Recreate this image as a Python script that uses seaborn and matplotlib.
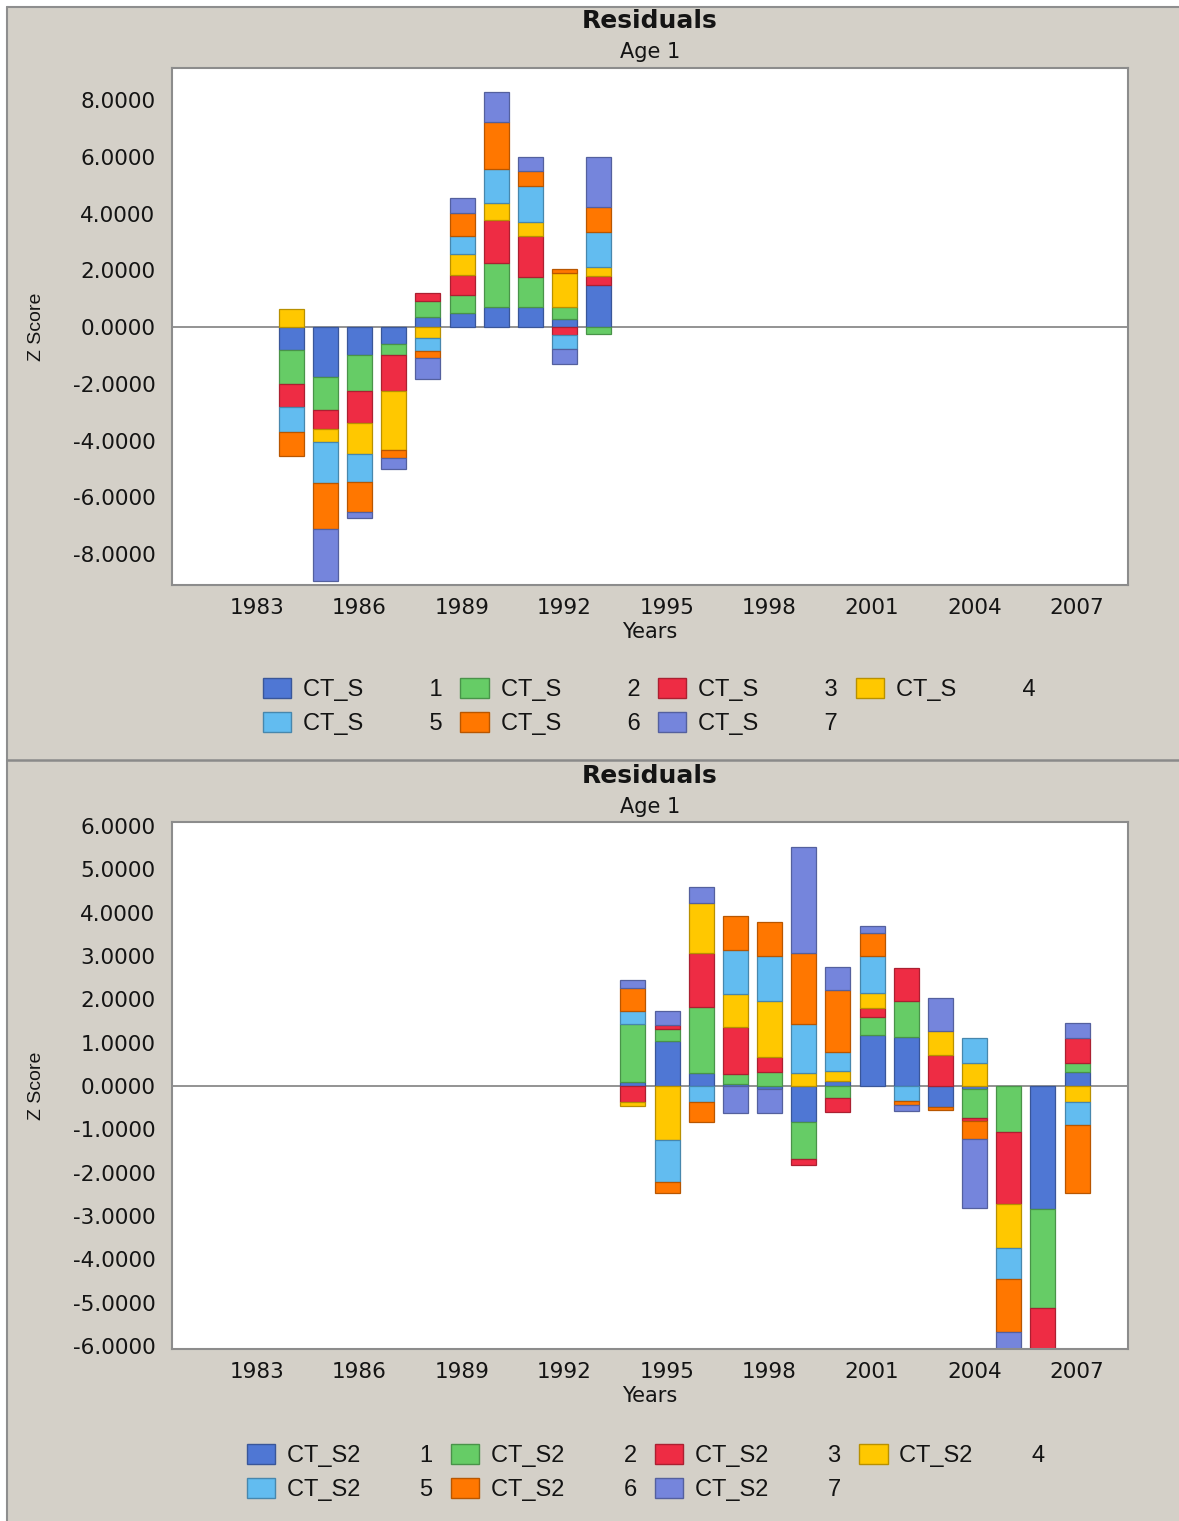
import numpy as np
import pandas as pd
import matplotlib
matplotlib.use("Agg")
import matplotlib.pyplot as plt
import matplotlib.colors as mcolors
from matplotlib.patches import Rectangle, Patch
from matplotlib.lines import Line2D
import seaborn as sns

# ---------------- data ----------------
years_top = [1984, 1985, 1986, 1987, 1988, 1989, 1990, 1991, 1992, 1993]
top_s1 = [-0.82, -1.76, -0.99, -0.58, 0.34, 0.50, 0.72, 0.72, 0.29, 1.48]
top_s2 = [-1.20, -1.15, -1.26, -0.41, 0.57, 0.62, 1.55, 1.03, 0.41, -0.26]
top_s3 = [-0.79, -0.68, -1.13, -1.26, 0.29, 0.73, 1.50, 1.46, -0.29, 0.32]
top_s4 = [0.62, -0.47, -1.10, -2.09, -0.40, 0.72, 0.59, 0.50, 1.21, 0.30]
top_s5 = [-0.88, -1.45, -0.99, 0.00, -0.44, 0.65, 1.20, 1.26, -0.48, 1.26]
top_s6 = [-0.85, -1.62, -1.05, -0.29, -0.25, 0.81, 1.66, 0.54, 0.12, 0.88]
top_s7 = [0.00, -1.82, -0.21, -0.36, -0.75, 0.51, 1.07, 0.48, -0.53, 1.74]

years_bot = [1994, 1995, 1996, 1997, 1998, 1999, 2000, 2001, 2002, 2003, 2004, 2005, 2006, 2007]
bot_s1 = [0.09, 1.03, 0.30, 0.05, -0.08, -0.83, 0.12, 1.17, 1.14, -0.48, -0.06, 0.00, -2.83, 0.32]
bot_s2 = [1.35, 0.28, 1.52, 0.23, 0.31, -0.86, -0.27, 0.41, 0.82, 0.00, -0.69, -1.06, -2.30, 0.20]
bot_s3 = [-0.37, 0.10, 1.25, 1.08, 0.36, -0.14, -0.33, 0.21, 0.75, 0.71, -0.05, -1.67, -1.20, 0.58]
bot_s4 = [-0.085, -1.25, 1.15, 0.77, 1.29, 0.29, 0.23, 0.35, 0.00, 0.56, 0.52, -1.00, 0.00, -0.38]
bot_s5 = [0.30, -0.97, -0.38, 1.00, 1.04, 1.15, 0.44, 0.85, -0.35, 0.00, 0.59, -0.73, 0.00, -0.52]
bot_s6 = [0.52, -0.24, -0.46, 0.78, 0.78, 1.63, 1.42, 0.54, -0.10, -0.08, -0.43, -1.21, 0.00, -1.56]
bot_s7 = [0.19, 0.32, 0.36, -0.63, -0.55, 2.45, 0.54, 0.16, -0.12, 0.75, -1.58, -0.60, 0.00, 0.36]

series_names_top = ["CT_S", "CT_S", "CT_S", "CT_S", "CT_S", "CT_S", "CT_S"]
series_names_bot = ["CT_S2", "CT_S2", "CT_S2", "CT_S2", "CT_S2", "CT_S2", "CT_S2"]
series_ids = ["1", "2", "3", "4", "5", "6", "7"]
series_colors = ["#4F77D4", "#66CC66", "#EE2C44", "#FFC800", "#62BCF0", "#FF7700", "#7585DC"]

x_ticks = [1983, 1986, 1989, 1992, 1995, 1998, 2001, 2004, 2007]
top_yticks = [-8, -6, -4, -2, 0, 2, 4, 6, 8]
bot_yticks = [-6, -5, -4, -3, -2, -1, 0, 1, 2, 3, 4, 5, 6]

# ---------------- style ----------------
sns.set_style("white")
plt.rcParams["font.family"] = ["DejaVu Sans"]

W, H = 1179, 1521
BG = "#D4D0C8"
TXT = "#141414"


def darker(c, f=0.72):
    r, g, b = mcolors.to_rgb(c)
    return (r * f, g * f, b * f)


fig = plt.figure(figsize=(W / 100, H / 100), dpi=100, facecolor="white")
fig.patches.append(Rectangle((7 / W, 0), 1, 1 - 7 / H, transform=fig.transFigure,
                             facecolor=BG, edgecolor="none", zorder=-10))
fig.add_artist(Line2D([6.5 / W, 1], [1 - 6.5 / H] * 2, color="#8e8e8e", lw=1.5,
                      transform=fig.transFigure))
fig.add_artist(Line2D([6.5 / W] * 2, [0, 1 - 6.5 / H], color="#8e8e8e", lw=1.5,
                      transform=fig.transFigure))
fig.add_artist(Line2D([7 / W, 1], [1 - 760 / H] * 2, color="#8a8a8a", lw=1.8,
                      transform=fig.transFigure))


def ax_rect(left, top, right, bottom):
    return [left / W, 1 - bottom / H, (right - left) / W, (bottom - top) / H]


def draw(ax, years, series, ylim, yticks):
    years = np.asarray(years)
    n = len(years)
    pos_base = np.zeros(n)
    neg_base = np.zeros(n)
    for vals, col in zip(series, series_colors):
        vals = np.asarray(vals, float)
        for sign in (1, -1):
            mask = vals > 0 if sign > 0 else vals < 0
            if not mask.any():
                continue
            base = pos_base if sign > 0 else neg_base
            sel = years[mask]
            nw = np.min(np.diff(sel)) if len(sel) > 1 else 1
            df = pd.DataFrame({"year": sel, "value": vals[mask]})
            sns.barplot(data=df, x="year", y="value", native_scale=True, color=col,
                        saturation=1, width=0.73 / nw, errorbar=None,
                        bottom=base[mask].copy(), edgecolor=darker(col),
                        linewidth=0.9, ax=ax, zorder=2)
            base[mask] += vals[mask]
    ax.axhline(0, color="#8a8a8a", lw=1.3, zorder=1)
    ax.set_xlim(1980.51, 2008.49)
    ax.set_ylim(*ylim)
    ax.set_xticks(x_ticks)
    ax.set_xticklabels([str(t) for t in x_ticks])
    ax.set_yticks(yticks)
    ax.set_yticklabels([f"{t:.4f}" for t in yticks])
    ax.set_facecolor("white")
    for s in ax.spines.values():
        s.set_color("#8c8c8c")
        s.set_linewidth(1.5)
        s.set_visible(True)
    ax.tick_params(axis="both", direction="out", length=5, width=1.2, color="#8c8c8c",
                   labelsize=15.5, labelcolor=TXT)
    ax.tick_params(axis="y", pad=7)
    ax.tick_params(axis="x", pad=4)
    ax.set_xlabel("Years", fontsize=15, color=TXT, labelpad=3)
    ax.set_ylabel("Z Score", fontsize=14, color=TXT,
                  family=["Liberation Sans", "DejaVu Sans"])
    ax.yaxis.set_label_coords(-0.133, 0.5)


ax1 = fig.add_axes(ax_rect(172, 68, 1128, 585))
draw(ax1, years_top, [top_s1, top_s2, top_s3, top_s4, top_s5, top_s6, top_s7],
     (-9.09, 9.13), top_yticks)
ax2 = fig.add_axes(ax_rect(172, 822, 1128, 1349))
draw(ax2, years_bot, [bot_s1, bot_s2, bot_s3, bot_s4, bot_s5, bot_s6, bot_s7],
     (-6.07, 6.09), bot_yticks)

for ytitle, ysub in ((21, 52), (776, 807)):
    fig.text(650 / W, 1 - ytitle / H, "Residuals", ha="center", va="center",
             fontsize=18, fontweight="bold", color=TXT)
    fig.text(650 / W, 1 - ysub / H, "Age 1", ha="center", va="center",
             fontsize=15, color=TXT)


def add_legend(names, x0, ytop, nspaces):
    handles = [Patch(facecolor=c, edgecolor=darker(c), linewidth=1.0) for c in series_colors]
    labels = [f"{nm}{' ' * nspaces}{sid}" for nm, sid in zip(names, series_ids)]
    # legend fills column-wise; reorder so entries read row-wise (1-4 / 5-7)
    order = [0, 4, 1, 5, 2, 6, 3]
    fig.legend([handles[i] for i in order], [labels[i] for i in order], loc="upper left",
               bbox_to_anchor=(x0 / W, 1 - ytop / H), ncol=4, frameon=False,
               prop={"family": ["Liberation Sans", "DejaVu Sans"], "size": 17},
               labelcolor=TXT, handlelength=1.2, handleheight=0.95,
               handletextpad=0.5, columnspacing=0.75, labelspacing=0.45,
               borderpad=0, borderaxespad=0)


add_legend(series_names_top, 263, 678, 10)
add_legend(series_names_bot, 247, 1444, 9)

fig.savefig("out.png", dpi=100, facecolor=fig.get_facecolor())
